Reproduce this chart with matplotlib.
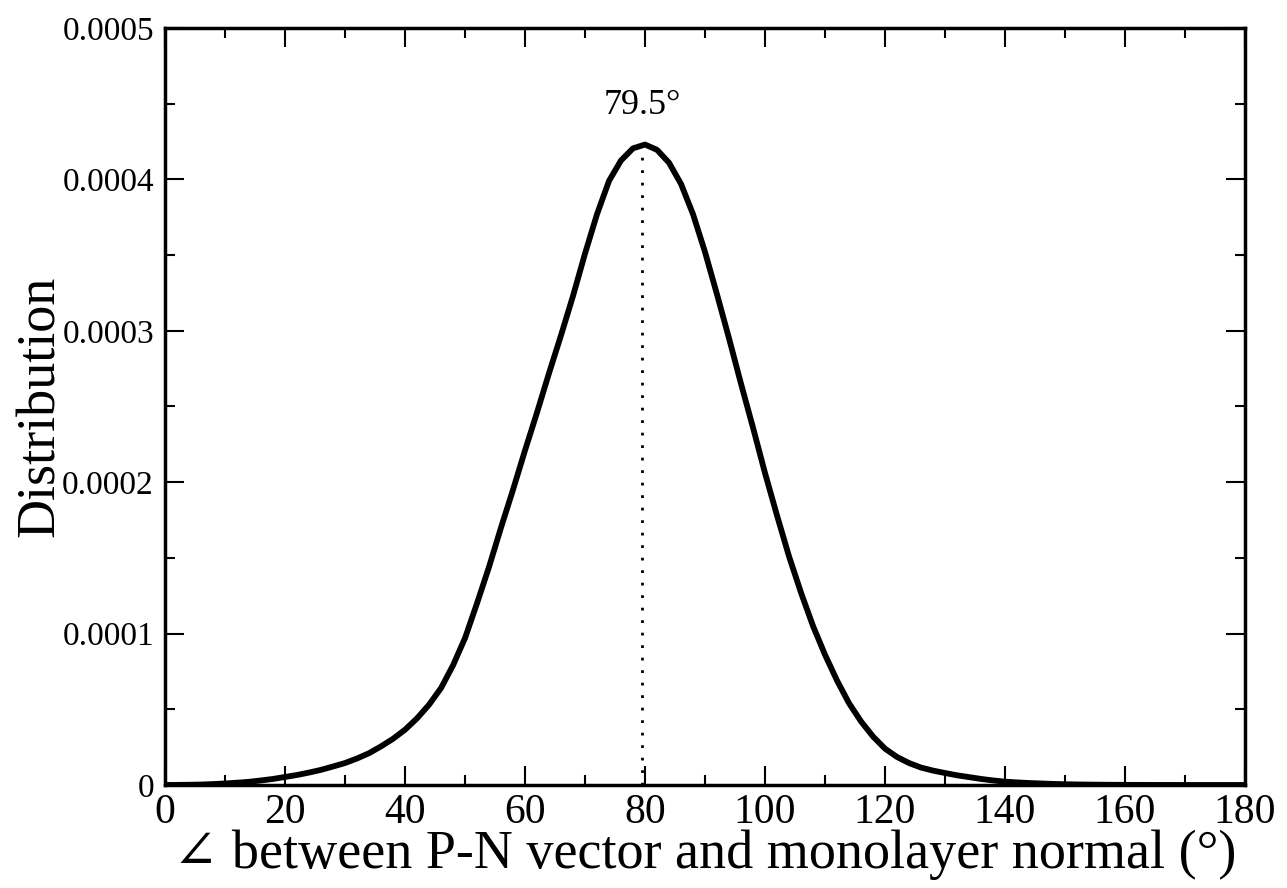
import numpy as np
import matplotlib.pyplot as plt
from matplotlib.ticker import MultipleLocator, FixedFormatter, FixedLocator

# angle distribution (values in units of 1e-6)
angle = np.arange(0, 182, 2)
dist_e6 = [0, 0.05, 0.15, 0.3, 0.6, 1.0, 1.5, 2.1, 3.0, 4.0,
           5.3, 6.6, 8.2, 10.0, 12.2, 14.5, 17.5, 21.0, 25.5, 30.5,
           36.5, 44, 53, 64, 79, 97, 120, 144, 170, 195,
           221, 246, 272, 297, 323, 351, 377, 399, 412.5, 420.5,
           423, 419.5, 411, 397, 377, 352, 324, 295, 265, 236,
           206, 178, 151, 127, 105, 86, 69, 54, 42, 32,
           24, 18.5, 14.5, 11.5, 9.5, 7.9, 6.4, 5.2, 4.0, 3.0,
           2.2, 1.7, 1.3, 1.0, 0.7, 0.5, 0.35, 0.25, 0.18, 0.12,
           0.08, 0.05, 0.03, 0.02, 0.01, 0, 0, 0, 0, 0, 0]
dist = np.array(dist_e6) * 1e-6

peak_angle = 79.5
peak_value = 0.000423

yticks = [0, 0.0001, 0.0002, 0.0003, 0.0004, 0.0005]
ytick_labels = ['0', '0.0001', '0.0002', '0.0003', '0.0004', '0.0005']

serif = ['Liberation Serif', 'DejaVu Serif']
plt.rcParams['font.family'] = serif

fig = plt.figure(figsize=(12.87, 8.88), dpi=100)
ax = fig.add_axes([0.1282, 0.116, 0.8392, 0.8525])

ax.plot(angle, dist, color='black', linewidth=4.2)
ax.plot([peak_angle, peak_angle], [0, peak_value], color='black',
        linewidth=2, linestyle=(0, (1, 3.5)))
ax.text(peak_angle, 0.000449, '79.5°', ha='center', va='center', fontsize=26)

ax.set_xlim(0, 180)
ax.set_ylim(0, 0.0005)
ax.xaxis.set_major_locator(MultipleLocator(20))
ax.xaxis.set_minor_locator(MultipleLocator(10))
ax.yaxis.set_major_locator(FixedLocator(yticks))
ax.yaxis.set_major_formatter(FixedFormatter(ytick_labels))
ax.yaxis.set_minor_locator(MultipleLocator(0.00005))

ax.tick_params(which='both', direction='in', top=True, right=True, width=1.5)
ax.tick_params(which='major', length=14)
ax.tick_params(which='minor', length=7)
ax.tick_params(axis='x', labelsize=30, pad=6)
ax.tick_params(axis='y', labelsize=24, pad=8)
for s in ax.spines.values():
    s.set_linewidth(2.5)

ax.set_xlabel('∠ between P-N vector and monolayer normal (°)', fontsize=39, labelpad=-2)
ax.set_ylabel('Distribution', fontsize=39, labelpad=-3)

fig.savefig('out.png', dpi=100, facecolor='white')
